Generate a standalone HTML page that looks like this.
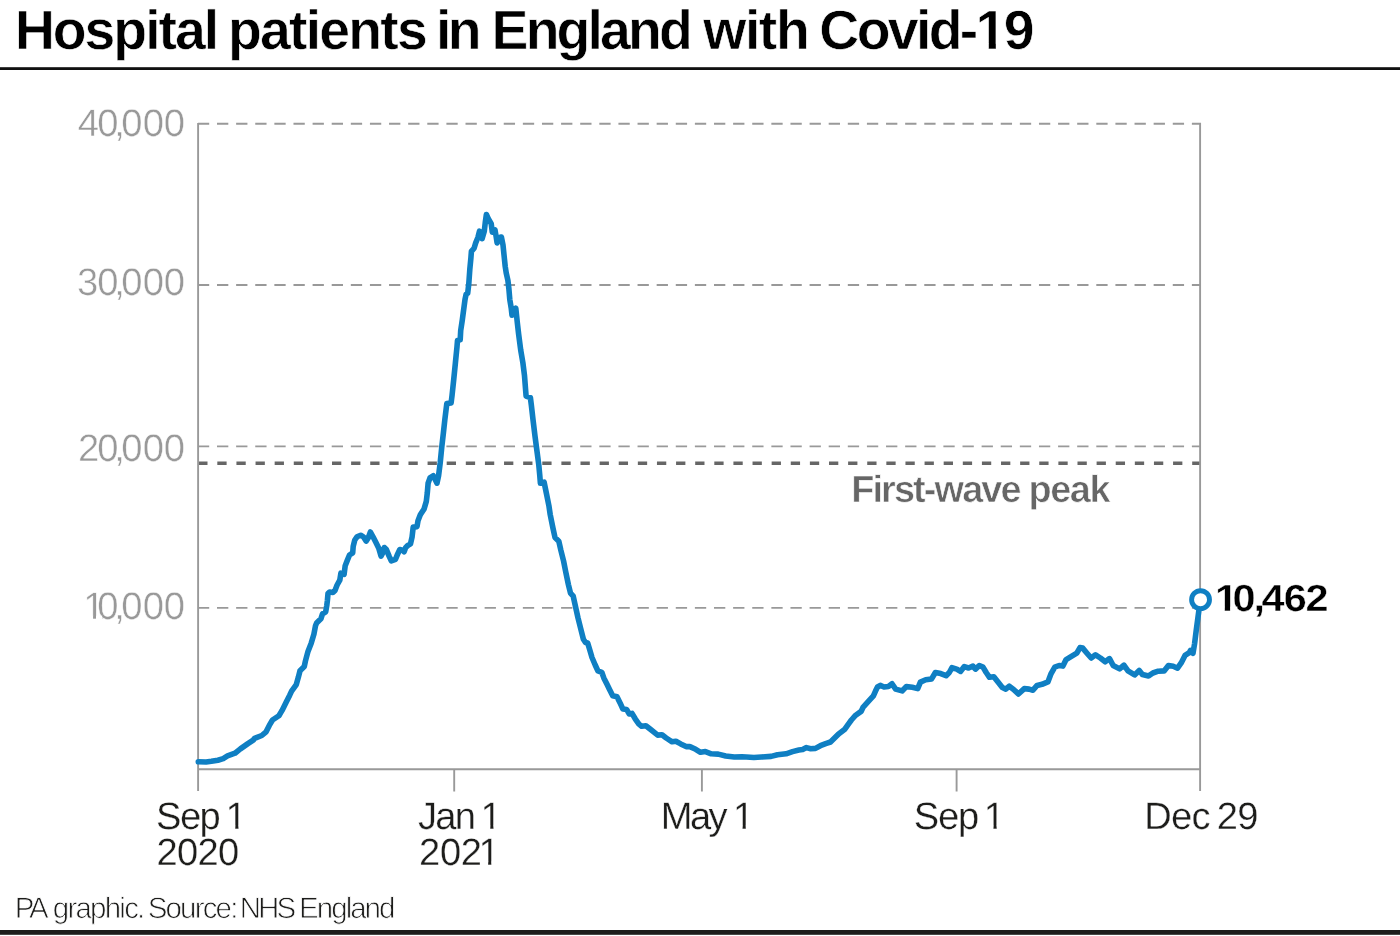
<!DOCTYPE html>
<html lang="en">
<head>
<meta charset="utf-8">
<title>Hospital patients in England with Covid-19</title>
<style>
  html, body { margin: 0; padding: 0; background: #ffffff; }
  body { width: 1400px; height: 936px; overflow: hidden; position: relative; }
  svg { position: absolute; left: 0; top: 0; display: block; }
  text { font-family: "Liberation Sans", Arial, Helvetica, sans-serif; white-space: pre; text-rendering: geometricPrecision; }
  /* a hairline white outline slims the glyphs towards the lighter weights of the original face */
  .thin { stroke: #ffffff; stroke-linejoin: round; }
  .title { font-weight: 700; fill: #000000; }
  .ylab { fill: #999999; }
  .xlab { fill: #1d1d1b; }
  .note { fill: #666666; font-weight: 700; }
  .val { fill: #000000; font-weight: 700; }
  .src { fill: #1d1d1b; }
</style>
</head>
<body>
<svg width="1400" height="936" viewBox="0 0 1400 936" role="img" aria-label="Line chart of hospital patients in England with Covid-19">
<defs>
<!-- trims the foot serif off the numeral 1 so it reads as a plain stroke + flag -->
<clipPath id="figs" clipPathUnits="userSpaceOnUse"><path clip-rule="evenodd" d="M0,0H1400V936H0Z M977.88,42.76H988.80V50.50H977.88Z M995.79,42.76H1006.01V50.50H995.79Z M84.95,615.55H93.07V620.50H84.95Z M96.00,615.55H102.18V620.50H96.00Z M227.30,825.55H235.33V830.50H227.30Z M238.40,825.55H246.13V830.50H238.40Z M482.30,825.55H490.33V830.50H482.30Z M493.40,825.55H501.13V830.50H493.40Z M480.15,861.55H488.18V866.50H480.15Z M491.25,861.55H498.98V866.50H491.25Z M734.60,825.55H742.63V830.50H734.60Z M745.70,825.55H753.43V830.50H745.70Z M985.50,825.55H993.53V830.50H985.50Z M996.60,825.55H1004.33V830.50H996.60Z M1216.34,606.55H1224.81V612.50H1216.34Z M1230.10,606.55H1237.42V612.50H1230.10Z"/></clipPath>
</defs>
<rect x="0" y="0" width="1400" height="936" fill="#ffffff"/>

<!-- headline rule -->
<rect x="0" y="67.2" width="1400" height="2.8" fill="#111111"/>

<!-- gridlines -->
<g fill="none" stroke="#999999" stroke-width="1.9" stroke-dasharray="11.3 7.815">
<line x1="197.9" y1="123.8" x2="1201.0" y2="123.8"/>
<line x1="197.9" y1="285.0" x2="1201.0" y2="285.0"/>
<line x1="197.9" y1="446.4" x2="1201.0" y2="446.4"/>
<line x1="197.9" y1="607.9" x2="1201.0" y2="607.9"/>
</g>
<line x1="198.2" y1="463.3" x2="1201" y2="463.3" fill="none" stroke="#666666" stroke-width="3.5" stroke-dasharray="9.3 9.815"/>

<!-- axes -->
<g fill="none" stroke="#999999" stroke-width="1.9">
<line x1="198.1" y1="122.9" x2="198.1" y2="791"/>
<line x1="1200.1" y1="122.9" x2="1200.1" y2="791"/>
<line x1="198.1" y1="769.2" x2="1200.1" y2="769.2"/>
<line x1="454.2" y1="769.2" x2="454.2" y2="791.5"/>
<line x1="701.9" y1="769.2" x2="701.9" y2="791.5"/>
<line x1="956.6" y1="769.2" x2="956.6" y2="791.5"/>
</g>

<g id="labels" clip-path="url(#figs)">
<!-- headline -->
<text class="title thin" font-size="55.3" stroke-width="0.6"><tspan x="14.88" y="49" letter-spacing="-1.99">Hospital</tspan> <tspan x="227.98" y="49" letter-spacing="-1.76">patients</tspan> <tspan x="436.08" y="49" letter-spacing="-3.77">in</tspan> <tspan x="491.62" y="49" letter-spacing="-2.83">England</tspan> <tspan x="703.26" y="49" letter-spacing="-1.38">with</tspan> <tspan x="819.36" y="49" letter-spacing="-2.63">Covid-19</tspan></text>
<!-- y axis labels -->
<text class="ylab thin" x="77.75 97.28 114.29 121.33 142.73 163.78" y="136" font-size="38.2" stroke-width="0.45">40,000</text>
<text class="ylab thin" x="76.97 97.28 114.29 121.33 142.73 163.78" y="295" font-size="38.2" stroke-width="0.45">30,000</text>
<text class="ylab thin" x="77.9 97.28 114.29 121.33 142.73 163.78" y="461" font-size="38.2" stroke-width="0.45">20,000</text>
<text class="ylab thin" x="83.24 97.28 114.29 121.33 142.73 163.78" y="619" font-size="38.2" stroke-width="0.45">10,000</text>
<!-- x axis labels -->
<text class="xlab thin" font-size="38.1" stroke-width="0.3"><tspan x="156.09" y="829" letter-spacing="-1.55">Sep</tspan> <tspan x="225.6" y="829">1</tspan> <tspan x="156.61" y="865" letter-spacing="-0.72">2020</tspan></text>
<text class="xlab thin" font-size="38.1" stroke-width="0.3"><tspan x="417.98" y="829" letter-spacing="-1.66">Jan</tspan> <tspan x="480.6" y="829">1</tspan> <tspan x="419.07 439.92 460.77 478.45" y="865">2021</tspan></text>
<text class="xlab thin" font-size="38.1" stroke-width="0.3"><tspan x="660.86" y="829" letter-spacing="-2.65">May</tspan> <tspan x="732.9" y="829">1</tspan></text>
<text class="xlab thin" font-size="38.1" stroke-width="0.3"><tspan x="913.77" y="829" letter-spacing="-1.15">Sep</tspan> <tspan x="983.8" y="829">1</tspan></text>
<text class="xlab thin" font-size="38.1" stroke-width="0.3"><tspan x="1144.33" y="829" letter-spacing="-0.79">Dec</tspan> <tspan x="1216.71" y="829" letter-spacing="-0.74">29</tspan></text>
<!-- annotation -->
<text class="note thin" font-size="37.85" stroke-width="0.6"><tspan x="851.17" y="502" letter-spacing="-1.86">First-wave</tspan> <tspan x="1028.5" y="502" letter-spacing="-1.42">peak</tspan></text>
<!-- latest value -->
<text class="val thin" transform="scale(1.1 1)" x="1104.48 1120.54 1139.62 1146.74 1167.14 1186.85" y="611" font-size="37.7" stroke-width="0.4">10,462</text>
<!-- footer -->
<text class="src thin" font-size="29.5" stroke-width="0.8"><tspan x="14.72" y="918" letter-spacing="-3.24">PA</tspan> <tspan x="52.75" y="918" letter-spacing="-1.77">graphic.</tspan> <tspan x="147.73" y="918" letter-spacing="-1.84">Source:</tspan> <tspan x="239.73" y="918" letter-spacing="-2.96">NHS</tspan> <tspan x="299.11" y="918" letter-spacing="-1.99">England</tspan></text>
</g>

<!-- data line -->
<path d="M198.3,761.8 L206.1,762.0 L211.4,761.3 L217.9,760.2 L223.2,758.6 L227.5,755.9 L235.0,753.2 L240.4,748.9 L247.9,743.6 L253.2,740.1 L254.6,738.4 L261.8,735.5 L266.1,731.8 L269.3,725.4 L272.5,720.0 L278.9,715.7 L282.1,710.4 L286.4,701.8 L289.6,695.4 L291.6,691.1 L296.3,684.6 L298.4,677.1 L300.0,670.7 L304.3,666.4 L305.4,661.1 L308.0,651.4 L311.3,642.9 L313.9,634.3 L315.5,625.7 L316.6,623.0 L320.9,618.8 L322.5,613.9 L325.7,611.8 L326.8,605.4 L327.4,600.5 L328.0,593.6 L329.6,592.0 L332.9,592.5 L335.0,590.4 L337.1,585.0 L339.8,580.2 L340.9,573.2 L344.1,574.3 L345.2,565.7 L347.3,560.4 L349.5,555.0 L352.7,552.9 L353.2,546.4 L354.8,540.0 L357.0,536.8 L360.7,535.2 L363.4,536.8 L366.1,541.1 L368.2,537.9 L370.4,532.0 L373.0,536.8 L375.7,542.1 L378.9,548.6 L381.1,556.1 L382.7,552.9 L384.3,547.5 L386.4,549.6 L389.1,556.1 L391.3,560.9 L395.5,559.3 L397.7,553.9 L399.8,549.6 L402.5,550.2 L404.1,551.8 L405.7,547.5 L407.9,545.4 L410.5,543.8 L412.1,536.8 L413.2,527.1 L417.0,526.6 L418.0,520.7 L420.3,514.8 L424.1,508.9 L426.3,501.4 L427.3,492.9 L428.1,483.2 L430.0,477.9 L433.2,475.7 L435.4,480.0 L437.0,483.2 L438.6,475.7 L440.2,462.9 L441.8,446.8 L443.4,432.9 L444.8,420.0 L446.8,403.6 L451.1,403.0 L452.1,395.0 L453.8,378.9 L455.4,362.9 L457.0,346.8 L457.5,340.4 L460.2,339.8 L460.7,330.7 L462.3,320.0 L465.0,299.6 L466.1,294.3 L467.7,293.2 L468.8,283.6 L469.8,269.6 L470.9,257.9 L471.4,251.4 L474.1,248.2 L475.7,242.9 L477.9,237.5 L479.5,231.1 L482.1,238.6 L484.3,231.1 L485.4,221.4 L486.4,214.5 L488.6,219.3 L491.2,223.6 L492.3,232.1 L495.0,230.0 L496.1,236.4 L497.1,242.9 L499.8,237.5 L501.4,237.0 L503.0,245.0 L504.1,255.7 L505.2,266.4 L506.2,272.9 L507.9,280.4 L508.9,288.9 L509.8,299.6 L511.2,308.0 L512.0,315.2 L515.8,308.2 L517.3,322.5 L518.6,333.9 L520.7,350.0 L522.9,362.9 L524.5,375.7 L525.5,388.6 L526.1,396.1 L530.4,397.7 L531.4,405.7 L533.0,419.6 L535.0,436.1 L537.1,452.1 L538.8,465.0 L539.8,475.7 L540.4,483.2 L544.1,482.1 L546.3,492.9 L548.9,505.7 L550.2,514.5 L552.9,527.9 L555.0,537.5 L558.8,541.2 L560.9,550.4 L563.6,561.1 L565.7,571.8 L568.4,584.6 L570.5,593.2 L573.2,596.2 L575.4,606.1 L578.0,617.9 L580.7,628.6 L583.4,639.3 L585.5,642.5 L587.7,643.0 L589.8,650.0 L592.0,657.5 L595.2,665.0 L597.9,670.9 L601.8,672.3 L603.8,677.9 L607.0,684.3 L609.3,689.0 L612.7,695.7 L617.0,696.8 L620.2,703.2 L622.9,709.1 L626.6,709.6 L629.3,713.9 L632.0,713.4 L635.2,718.8 L638.9,724.1 L641.6,726.2 L645.9,725.7 L650.7,729.5 L657.7,735.1 L662.0,734.8 L666.2,738.0 L672.1,741.8 L675.9,741.2 L680.7,743.9 L686.1,746.6 L689.8,746.6 L695.7,749.3 L700.5,752.3 L705.4,751.6 L711.2,753.8 L718.2,754.1 L725.7,756.0 L734.3,757.0 L741.8,756.9 L746.4,757.0 L753.9,757.5 L761.4,757.0 L771.1,756.4 L777.5,754.8 L786.1,753.8 L792.5,751.6 L798.9,750.0 L802.7,749.5 L806.4,747.6 L810.7,748.7 L815.5,748.4 L820.4,745.7 L825.7,743.6 L830.5,742.0 L834.3,738.2 L838.6,733.9 L844.5,729.6 L848.2,724.3 L851.4,720.0 L855.7,715.2 L861.1,711.4 L863.2,707.1 L868.6,701.2 L873.4,695.9 L875.5,691.1 L877.5,687.0 L880.3,685.4 L884.0,687.0 L888.4,686.5 L892.0,683.8 L895.7,689.1 L902.1,690.9 L906.4,686.6 L912.3,687.3 L917.7,688.6 L920.4,682.1 L925.7,679.8 L931.6,678.9 L935.4,672.5 L940.7,673.6 L946.1,675.7 L949.3,672.5 L952.0,667.7 L956.8,669.1 L960.5,671.4 L964.3,666.6 L968.6,668.0 L972.9,666.1 L975.5,669.1 L979.3,665.5 L983.0,667.1 L986.2,672.5 L989.5,677.3 L993.8,676.8 L998.0,682.1 L1002.3,687.5 L1005.8,689.1 L1009.3,686.2 L1013.6,689.4 L1018.4,694.0 L1024.3,688.6 L1029.1,689.1 L1032.9,690.2 L1037.1,685.4 L1042.0,684.3 L1047.9,681.9 L1051.1,673.6 L1054.8,667.1 L1059.1,665.5 L1062.9,666.1 L1066.1,659.6 L1071.4,656.4 L1076.8,653.2 L1080.0,647.6 L1082.7,648.1 L1087.0,653.2 L1091.2,658.0 L1095.5,654.8 L1100.4,658.0 L1105.2,661.8 L1109.5,658.6 L1113.2,665.5 L1119.6,668.9 L1123.9,665.2 L1128.0,670.9 L1134.6,674.9 L1139.2,670.4 L1142.4,674.5 L1148.6,675.9 L1152.9,673.0 L1158.2,671.2 L1164.1,670.9 L1168.4,665.5 L1173.2,666.3 L1177.5,668.2 L1181.2,662.9 L1185.0,655.4 L1189.3,652.7 L1190.4,650.5 L1193.0,653.2 L1194.6,643.6 L1196.2,630.7 L1197.9,617.9 L1198.9,610.4 L1200.3,603.0" fill="none" stroke="#0f7fc3" stroke-width="5.6" stroke-linejoin="round" stroke-linecap="round"/>
<circle cx="1200.55" cy="599.65" r="8.95" fill="#ffffff" stroke="#0f7fc3" stroke-width="4.9"/>

<!-- footer rule -->
<rect x="0" y="930" width="1400" height="4.8" fill="#1d1d1b"/>
</svg>
</body>
</html>
